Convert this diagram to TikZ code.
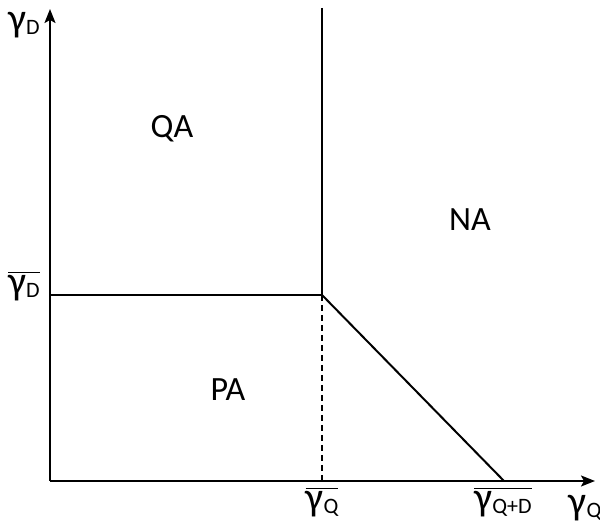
\documentclass[tikz,border=0pt]{standalone}
\usepackage{fontspec}
\setmainfont{Carlito}
\usetikzlibrary{arrows.meta}
\newcommand{\gsym}[1]{{\fontsize{20}{22}\selectfont γ}\raisebox{-0.1em}{\fontsize{11}{11}\selectfont #1}}
\newcommand{\gbar}[1]{$\overline{\hbox{\gsym{#1}}}$}
\begin{document}
\begin{tikzpicture}[x=0.5pt, y=-0.5pt, font=\fontsize{17}{20}\selectfont,
    axis/.style={line width=1pt, -{Stealth[length=7pt, width=5.5pt, inset=1.5pt]}},
    bound/.style={line width=1pt},
    guide/.style={line width=0.7pt, dash pattern=on 3pt off 2pt},
    lbl/.style={inner sep=0pt}]
  \useasboundingbox (0,0) rectangle (600,522);
  % corner points
  \coordinate (O) at (50,481);
  \coordinate (ytop) at (50,9);
  \coordinate (xend) at (595,481);
  \coordinate (top) at (322,8);
  \coordinate (P) at (322,295);
  \coordinate (left) at (50,295);
  \coordinate (foot) at (322,481);
  \coordinate (end) at (504,481);
  % axes
  \draw[axis] (O) -- (ytop);
  \draw[axis] (O) -- (xend);
  % region boundaries
  \draw[bound] (top) -- (P) -- (left);
  \draw[bound] (P) -- (end);
  \draw[guide] (P) -- (foot);
  % axis labels
  \node[lbl] (gD) at (24,25) {\gsym{D}};
  \node[lbl] (gQ) at (585,508) {\gsym{Q}};
  \node[lbl] (gDbar) at (24,286) {\gbar{D}};
  \node[lbl] (gQbar) at (322,502) {\gbar{Q}};
  \node[lbl] (gQDbar) at (503,502) {\gbar{Q+D}};
  % regions
  \node[lbl] (QA) at (172,129) {QA};
  \node[lbl] (NA) at (470,220) {NA};
  \node[lbl] (PA) at (228,390) {PA};
\end{tikzpicture}
\end{document}
